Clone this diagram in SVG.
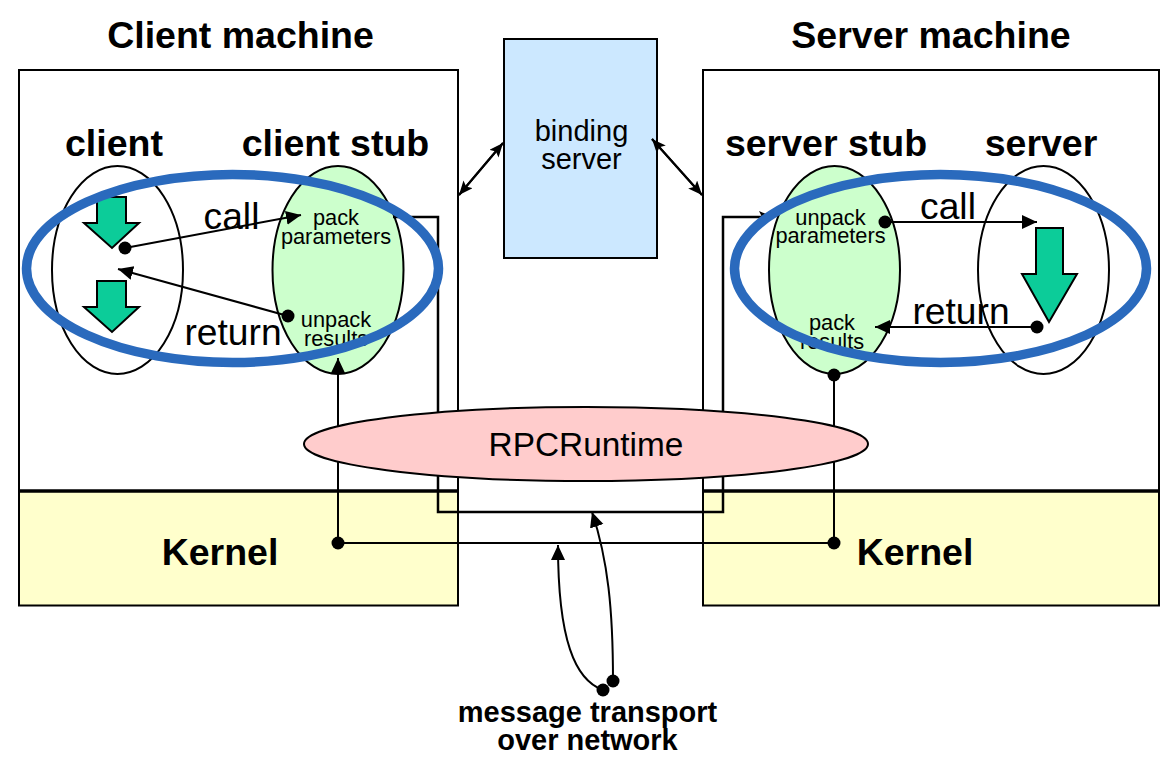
<svg xmlns="http://www.w3.org/2000/svg" width="1175" height="767" viewBox="0 0 1175 767">
<style>
text{font-family:"Liberation Sans",Arial,sans-serif;fill:#000;text-anchor:middle}
.b{font-weight:bold}
.t{font-size:37.500px}.h{font-size:37.500px}.k{font-size:37.500px}
.l{font-size:37.200px}.s{font-size:21.800px}.m{font-size:29px}.n{font-size:29px}
.box{fill:#fff;stroke:#000;stroke-width:2}
.kern{fill:#ffffcc;stroke:#000;stroke-width:2}
.el{fill:#fff;stroke:#000;stroke-width:2}
.stub{fill:#ccffcc;stroke:#000;stroke-width:2}
.ln{fill:none;stroke:#000;stroke-width:2}
.w{fill:none;stroke:#000;stroke-width:2.500}
.bl{fill:#0ccc99;stroke:#000;stroke-width:2}
.o{fill:none;stroke:#2a6abd;stroke-width:9.500}
</style>
<defs>
<marker id="a" markerUnits="userSpaceOnUse" markerWidth="18" markerHeight="16" refX="15" refY="7" orient="auto"><path d="M0,0L15,7L0,14z" fill="#000"/></marker>
<marker id="s" markerUnits="userSpaceOnUse" markerWidth="16" markerHeight="14" refX="14" refY="6" orient="auto"><path d="M0,0L14,6L0,12L3,6z" fill="#000"/></marker>
</defs>
<g id="client-machine"><rect class="box" x="19" y="70" width="439" height="421"/><text class="b t" x="240.500" y="47.500">Client machine</text></g>
<g id="server-machine"><rect class="box" x="703" y="70" width="456" height="421"/><text class="b t" x="931" y="47.500">Server machine</text></g>
<g id="client-kernel"><rect class="kern" x="19" y="491" width="439" height="114.500"/><line x1="19" y1="491" x2="458" y2="491" stroke="#000" stroke-width="3.500"/><text class="b k" x="220" y="565">Kernel</text></g>
<g id="server-kernel"><rect class="kern" x="703" y="491" width="456" height="114.500"/><line x1="703" y1="491" x2="1159" y2="491" stroke="#000" stroke-width="3.500"/><text class="b k" x="915" y="565">Kernel</text></g>
<g id="binding-server"><rect x="504" y="39" width="153" height="219" fill="#cce8ff" stroke="#000" stroke-width="2"/><text class="m" x="581.500" y="141">binding</text><text class="m" x="581.500" y="169">server</text></g>
<g id="client"><ellipse class="el" cx="117.500" cy="270" rx="65.500" ry="104"/><text class="b h" x="114" y="156">client</text>
<path class="bl" d="M97,197H126V223H139L112,248L84,223H97z"/><path class="bl" d="M97,281H126V307H139L112,332L84,307H97z"/></g>
<g id="client-stub"><ellipse class="stub" cx="338" cy="270" rx="65.500" ry="104"/><text class="b h" x="335.500" y="156">client stub</text>
<text class="s" x="336" y="225">pack</text><text class="s" x="336" y="244">parameters</text><text class="s" x="336" y="327">unpack</text><text class="s" x="336" y="346">results</text></g>
<g id="server"><ellipse class="el" cx="1043.500" cy="270" rx="65.500" ry="104"/><text class="b h" x="1041" y="156">server</text>
<path class="bl" d="M1036,228H1063V274H1077L1049,322L1022,274H1036z"/></g>
<g id="server-stub"><ellipse class="stub" cx="834.500" cy="270" rx="65.500" ry="104"/><text class="b h" x="826" y="156">server stub</text>
<text class="s" x="830.500" y="225">unpack</text><text class="s" x="830.500" y="243">parameters</text><text class="s" x="832" y="330">pack</text><text class="s" x="832" y="349">results</text></g>
<g id="connectors">
<path class="w" d="M393,217H438V512H723V217H773" marker-end="url(#s)"/>
<path class="ln" d="M338,543V358" marker-end="url(#a)"/>
<path class="ln" d="M338,543H834V375"/>
<circle cx="338" cy="543" r="6.500"/><circle cx="834" cy="543" r="6.500"/><circle cx="834" cy="375" r="6.500"/>
<path class="ln" d="M125,248L301,215" marker-end="url(#a)"/><circle cx="125" cy="248" r="6.500"/>
<path class="ln" d="M288,316L118,269" marker-end="url(#a)"/><circle cx="288" cy="316" r="6.500"/>
<path class="ln" d="M885,222H1037" marker-end="url(#a)"/><circle cx="885" cy="222" r="6.500"/>
<path class="ln" d="M1037,327H875" marker-end="url(#a)"/><circle cx="1037" cy="327" r="6.500"/>
<path class="ln" d="M603,690C575,680 558,640 558,545" marker-end="url(#a)"/><circle cx="603" cy="690" r="6.500"/>
<path class="ln" d="M613,681C613,610 608,560 592,512" marker-end="url(#a)"/><circle cx="613" cy="681" r="6.500"/>
<path class="ln" d="M459,195L503,143" marker-end="url(#s)"/>
<path class="ln" d="M503,143L459,195" marker-end="url(#s)"/>
<path class="ln" d="M652,139L702,195" marker-end="url(#s)"/>
<path class="ln" d="M702,195L652,139" marker-end="url(#s)"/>
</g>
<g id="labels"><text class="l" x="231.500" y="229">call</text><text class="l" x="233" y="345">return</text><text class="l" x="948" y="219">call</text><text class="l" x="961" y="324">return</text></g>
<g id="rpc-runtime"><ellipse cx="586" cy="444" rx="282" ry="37" fill="#ffcccc" stroke="#000" stroke-width="2"/><text x="586" y="456" style="font-size:33.400px">RPCRuntime</text></g>
<g id="highlights"><ellipse class="o" cx="232.500" cy="268.500" rx="206" ry="94"/><ellipse class="o" cx="940.500" cy="268.500" rx="206" ry="94"/></g>
<g id="transport"><text class="b n" x="587.500" y="722">message transport</text><text class="b n" x="587.500" y="750">over network</text></g>
</svg>
